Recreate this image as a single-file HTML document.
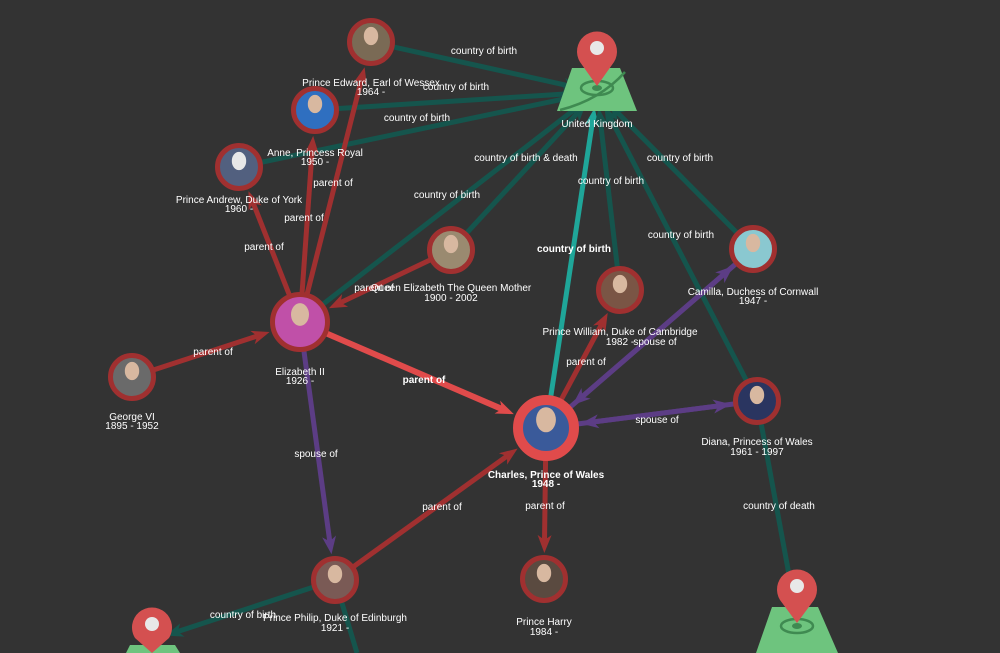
<!DOCTYPE html>
<html><head><meta charset="utf-8">
<style>
html,body{margin:0;padding:0;background:#333333;width:1000px;height:653px;overflow:hidden;}
svg{display:block;}
text{font-family:"Liberation Sans",sans-serif;font-size:10px;fill:#ffffff;text-anchor:middle;}
.b{font-weight:bold;}
</style></head>
<body>
<svg id="s" width="1000" height="653" viewBox="0 0 1000 653" xmlns="http://www.w3.org/2000/svg" overflow="hidden">
<rect width="1000" height="653" fill="#333333"/>
<g id="edges"></g>
<g id="uk">
<polygon points="572,68 620,68 637,111 557,111" fill="#6ec47e"/>
<ellipse cx="597" cy="88" rx="16" ry="7" fill="none" stroke="#3f8a51" stroke-width="2.5"/>
<ellipse cx="597" cy="88" rx="5" ry="3" fill="#3f8a51"/>
<path d="M560,110 Q600,100 625,72" fill="none" stroke="#3f8a51" stroke-width="2.5"/>
<path d="M597,86 L580,62 A20,20 0 1 1 614,62 Z" fill="#d45050"/>
<circle cx="597" cy="48" r="7" fill="#e8e8e8"/>
</g>
<g>
<polygon points="772,607 818,607 838,653 756,653" fill="#6ec47e"/>
<ellipse cx="797" cy="626" rx="16" ry="7" fill="none" stroke="#3f8a51" stroke-width="2.5"/>
<ellipse cx="797" cy="626" rx="5" ry="3" fill="#3f8a51"/>
<path d="M797,623 L780,600 A20,20 0 1 1 814,600 Z" fill="#d45050"/>
<circle cx="797" cy="586" r="7" fill="#e8e8e8"/>
</g>
<g>
<polygon points="130,645 175,645 180,653 126,653" fill="#6ec47e"/>
<path d="M152,653 L135,638 A20,20 0 1 1 169,638 Z" fill="#d45050"/>
<circle cx="152" cy="624" r="7" fill="#e8e8e8"/>
</g>
<g id="nodes"></g>
<text x="597" y="127">United Kingdom</text>
<text x="371" y="86">Prince Edward, Earl of Wessex</text><text x="371" y="95">1964 -</text>
<text x="315" y="156">Anne, Princess Royal</text><text x="315" y="165">1950 -</text>
<text x="239" y="203">Prince Andrew, Duke of York</text><text x="239" y="212">1960 -</text>
<text x="451" y="291">Queen Elizabeth The Queen Mother</text><text x="451" y="301">1900 - 2002</text>
<text x="300" y="375">Elizabeth II</text><text x="300" y="384">1926 -</text>
<text x="132" y="420">George VI</text><text x="132" y="429">1895 - 1952</text>
<text x="546" y="478" class="b">Charles, Prince of Wales</text><text x="546" y="487" class="b">1948 -</text>
<text x="620" y="335">Prince William, Duke of Cambridge</text><text x="620" y="345">1982 -</text>
<text x="753" y="295">Camilla, Duchess of Cornwall</text><text x="753" y="304">1947 -</text>
<text x="757" y="445">Diana, Princess of Wales</text><text x="757" y="455">1961 - 1997</text>
<text x="335" y="621">Prince Philip, Duke of Edinburgh</text><text x="335" y="631">1921 -</text>
<text x="544" y="625">Prince Harry</text><text x="544" y="635">1984 -</text>
<text x="484" y="54">country of birth</text>
<text x="456" y="90">country of birth</text>
<text x="417" y="121">country of birth</text>
<text x="526" y="161">country of birth &amp; death</text>
<text x="447" y="198">country of birth</text>
<text x="611" y="184">country of birth</text>
<text x="680" y="161">country of birth</text>
<text x="681" y="238">country of birth</text>
<text x="574" y="252" class="b">country of birth</text>
<text x="333" y="186">parent of</text>
<text x="304" y="221">parent of</text>
<text x="264" y="250">parent of</text>
<text x="374" y="291">parent of</text>
<text x="213" y="355">parent of</text>
<text x="424" y="383" class="b">parent of</text>
<text x="316" y="457">spouse of</text>
<text x="442" y="510">parent of</text>
<text x="586" y="365">parent of</text>
<text x="655" y="345">spouse of</text>
<text x="657" y="423">spouse of</text>
<text x="545" y="509">parent of</text>
<text x="779" y="509">country of death</text>
<text x="243" y="618">country of birth</text>
</svg>
<script>
(function(){
var NS="http://www.w3.org/2000/svg";
var N={
ed:[371,42,24,"#7a6a55"],an:[315,110,24,"#2f6fc0"],dr:[239,167,24,"#52607f"],
qm:[451,250,24,"#9a8a70"],el:[300,322,30,"#c050a8"],gv:[132,377,24,"#6a6a6a"],
ch:[546,428,33,"#3a5a9a"],wi:[620,290,24,"#7a5545"],ca:[753,249,24,"#8ac8d0"],
di:[757,401,24,"#2a3560"],ph:[335,580,24,"#7a5a55"],ha:[544,579,24,"#5a4a40"],
uk:[597,92,14],bl:[152,640,12],br:[797,618,12],of:[357,653,0]};
var T="#15554d",R="#a03030",P="#5c3d85";
var E=[
["ed","uk",T,5,1],["an","uk",T,5,1],["dr","uk",T,5,1],["el","uk",T,5,1],["qm","uk",T,5,1],
["ch","uk","#1fa699",5,1],["wi","uk",T,5,1],["di","uk",T,5,1],["ca","uk",T,5,1],
["el","ed",R,5,1],["el","an",R,5,1],["el","dr",R,5,1],["qm","el",R,5,1],["gv","el",R,5,1],
["el","ch","#e04b4b",6,1],["el","ph",P,5,1],["ph","ch",R,5,1],["ch","wi",R,5,1],
["ca","ch",P,5,1],["ch","ca",P,5,1],["di","ch",P,5,1],["ch","di",P,5,1],["ch","ha",R,5,1],
["di","br",T,5,1],["ph","bl",T,5,1],["ph","of",T,5,0]];
var eg=document.getElementById("edges");
E.forEach(function(e){
 var a=N[e[0]],b=N[e[1]];
 var dx=b[0]-a[0],dy=b[1]-a[1],L=Math.sqrt(dx*dx+dy*dy),ux=dx/L,uy=dy/L;
 var ex=b[0]-ux*(b[2]+2),ey=b[1]-uy*(b[2]+2);
 var l=document.createElementNS(NS,"line");
 l.setAttribute("x1",a[0]);l.setAttribute("y1",a[1]);
 l.setAttribute("x2",e[4]?ex-ux*10:b[0]);l.setAttribute("y2",e[4]?ey-uy*10:b[1]);
 l.setAttribute("stroke",e[2]);l.setAttribute("stroke-width",e[3]);eg.appendChild(l);
 if(e[4]){var bx=ex-ux*18,by=ey-uy*18,px=-uy*7,py=ux*7;
  var p=document.createElementNS(NS,"polygon");
  p.setAttribute("points",ex+","+ey+" "+(bx+px)+","+(by+py)+" "+(ex-ux*13)+","+(ey-uy*13)+" "+(bx-px)+","+(by-py));
  p.setAttribute("fill",e[2]);eg.appendChild(p);}
});
var ng=document.getElementById("nodes");
for(var k in N){var n=N[k];if(!n[3])continue;
 var c=document.createElementNS(NS,"circle");
 c.setAttribute("cx",n[0]);c.setAttribute("cy",n[1]);c.setAttribute("r",n[2]-(k=="ch"?5:2.5));
 c.setAttribute("fill",n[3]);c.setAttribute("stroke",k=="ch"?"#e04b4b":"#a03030");
 c.setAttribute("stroke-width",k=="ch"?10:5);ng.appendChild(c);
 var f=document.createElementNS(NS,"ellipse");
 f.setAttribute("cx",n[0]);f.setAttribute("cy",n[1]-n[2]*0.25);f.setAttribute("rx",n[2]*0.3);f.setAttribute("ry",n[2]*0.38);
 f.setAttribute("fill",k=="dr"?"#e8e8e8":"#d8b8a0");ng.appendChild(f);
}
})();
</script>
</body></html>
